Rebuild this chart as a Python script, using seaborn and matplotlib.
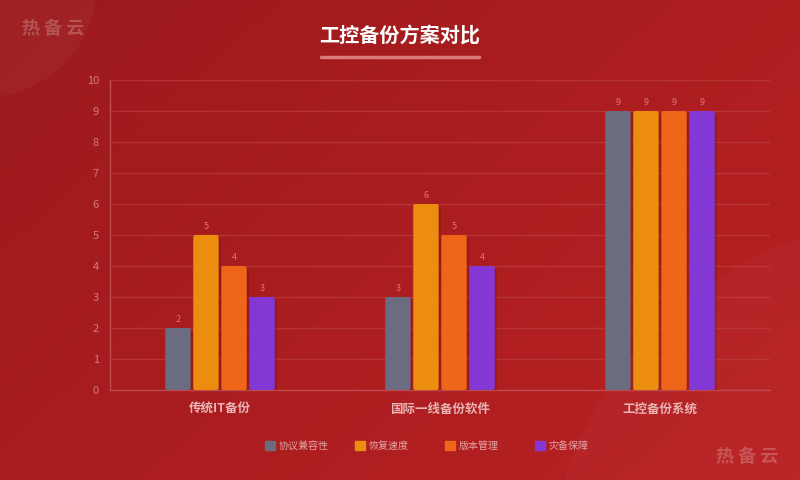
import numpy as np
import pandas as pd
import matplotlib
matplotlib.use("Agg")
import matplotlib.pyplot as plt
import seaborn as sns
from matplotlib.patches import Circle, FancyBboxPatch
from matplotlib.lines import Line2D
import matplotlib.patheffects as pe

categories = ["传统IT备份", "国际一线备份软件", "工控备份系统"]
series = ["协议兼容性", "恢复速度", "版本管理", "灾备保障"]
compat = [2, 3, 9]
speed = [5, 6, 9]
version = [4, 5, 9]
disaster = [3, 4, 9]
colors = ["#6c6c80", "#ec8d10", "#ef6519", "#8338d6"]

rows = []
for name, vals in zip(series, [compat, speed, version, disaster]):
    for c, v in zip(categories, vals):
        rows.append({"方案": c, "指标": name, "得分": v})
df = pd.DataFrame(rows)

sns.set_theme(style="white")
plt.rcParams["font.family"] = ["Noto Sans CJK SC", "DejaVu Sans"]

fig = plt.figure(figsize=(8, 4.8), dpi=100)

# background gradient (pixel coordinates)
bg = fig.add_axes([0, 0, 1, 1], zorder=-10)
yy, xx = np.mgrid[0:1:200j, 0:1:300j]
t = (xx * 0.6 + yy * 0.4)
c0 = np.array([0.61, 0.10, 0.11])
c1 = np.array([0.73, 0.13, 0.135])
img = c0[None, None, :] * (1 - t[..., None]) + c1[None, None, :] * t[..., None]
bg.imshow(img, aspect="auto", extent=[0, 800, 480, 0])
bg.add_patch(Circle((-15, -15), 112, color="white", alpha=0.035, lw=0))
bg.add_patch(Circle((920, 590), 372, color="white", alpha=0.025, lw=0))
bg.set_xlim(0, 800); bg.set_ylim(480, 0)
bg.axis("off")

ax = fig.add_axes([0.1375, 0.1875, 0.825, 0.6458])
ax.set_facecolor("none")
sns.barplot(data=df, x="方案", y="得分", hue="指标", hue_order=series,
            palette=colors, width=0.51, ax=ax, legend=False, saturation=1,
            linewidth=0, zorder=3)

ax.set_ylim(0, 10)
ax.set_xlim(-0.5, 2.5)

for cont in ax.containers:
    ax.bar_label(cont, fmt="%g", padding=3, fontsize=6.5, color="#d9767a")

gap = 0.012
aspect = 220 / 31
for p in list(ax.patches):
    w = p.get_width()
    x = p.get_x()
    fb = FancyBboxPatch((x + gap / 2, p.get_y()), w - gap, p.get_height(),
                        boxstyle="round,pad=0,rounding_size=0.01", mutation_aspect=aspect,
                        facecolor=p.get_facecolor(), edgecolor="none", lw=0, zorder=3)
    fb.set_path_effects([pe.SimplePatchShadow(offset=(1.5, -2), shadow_rgbFace="#5a0a0c", alpha=0.25),
                         pe.Normal()])
    ax.add_patch(fb)
    p.set_visible(False)

ax.set_yticks(range(0, 11))
ax.yaxis.grid(True, color="#c24a4c", alpha=0.5, lw=1, zorder=0)
ax.set_axisbelow(True)
for s in ["top", "right"]:
    ax.spines[s].set_visible(False)
for s in ["left", "bottom"]:
    ax.spines[s].set_color("#bf4a4d")
    ax.spines[s].set_linewidth(1)
ax.tick_params(axis="y", colors="#d77a7d", labelsize=8, length=0, pad=8)
ax.tick_params(axis="x", length=0, pad=9)
for lab in ax.get_xticklabels():
    lab.set_color("#e9b4b5")
    lab.set_fontsize(9)
    lab.set_fontweight("bold")
ax.set_xlabel("")
ax.set_ylabel("")

# title
fig.text(0.5, 1 - 35 / 480, "工控备份方案对比", ha="center", va="center",
         fontsize=14.5, fontweight="bold", color="white")
fig.add_artist(Line2D([321 / 800, 479 / 800], [1 - 57 / 480] * 2, color="#e58c8c", lw=2.5,
                      transform=fig.transFigure, solid_capstyle="round", alpha=0.85))

# watermarks
fig.text(22 / 800, 1 - 28 / 480, "热 备 云", ha="left", va="center", fontsize=13,
         fontweight="bold", color="white", alpha=0.22)
fig.text(778 / 800, 1 - 456 / 480, "热 备 云", ha="right", va="center", fontsize=13,
         fontweight="bold", color="white", alpha=0.22)

# legend items, evenly spaced
for i, (name, c) in enumerate(zip(series, colors)):
    h = plt.Rectangle((0, 0), 1, 1, color=c)
    leg = fig.legend([h], [name], loc="center left",
                     bbox_to_anchor=((265 + 90 * i) / 800, 1 - 446 / 480),
                     frameon=False, fontsize=7.2, handlelength=0.95, handleheight=0.95,
                     handletextpad=0.45, borderpad=0, borderaxespad=0)
    for txt in leg.get_texts():
        txt.set_color("#e3a5a7")

fig.savefig("out.png", dpi=100)
